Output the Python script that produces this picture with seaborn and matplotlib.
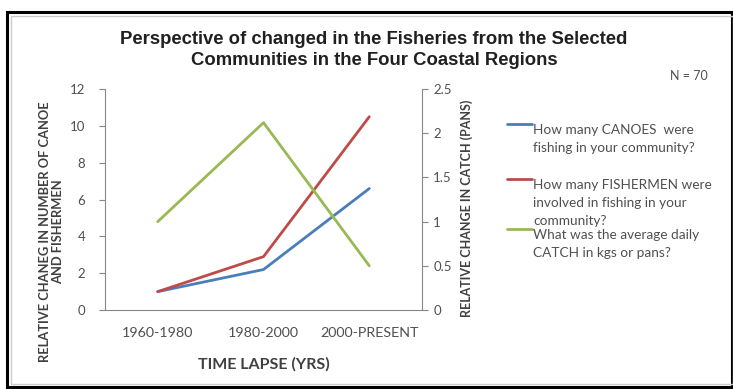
import seaborn as sb
import pandas as pd
import numpy as np
import matplotlib.pyplot as plt
from matplotlib.patches import Rectangle
from matplotlib.ticker import FixedLocator
from matplotlib.legend_handler import HandlerLine2D

# values
periods = ['1960-1980', '1980-2000', '2000-PRESENT']
canoes = [1.0, 2.2, 6.6]
fishermen = [1.0, 2.9, 10.5]
catch = [1.0, 2.12, 0.5]

labels = ['How many CANOES  were\nfishing in your community?',
          'How many FISHERMEN were\ninvolved in fishing in your\ncommunity?',
          'What was the average daily\nCATCH in kgs or pans?']
colors = ['#4a7ebb', '#be4b48', '#98b954']
grey = '#505050'


class FirstLineHandler(HandlerLine2D):
    # put the legend line beside the first text line, not the middle one
    def __init__(self, shift, **kw):
        super().__init__(**kw)
        self.shift = shift

    def create_artists(self, legend, orig_handle, xdescent, ydescent, width, height, fontsize, trans):
        arts = super().create_artists(legend, orig_handle, xdescent, ydescent, width, height, fontsize, trans)
        for a in arts:
            a.set_ydata(np.asarray(a.get_ydata()) + self.shift * fontsize)
        return arts


sb.set_style('white')
plt.rcParams['font.family'] = ['Lato', 'DejaVu Sans']

counts = pd.DataFrame({'period': periods * 2,
                       'value': canoes + fishermen,
                       'series': ['canoes'] * 3 + ['fishermen'] * 3})
catch_df = pd.DataFrame({'period': periods, 'value': catch})

fig = plt.figure(figsize=(7.33, 3.89), dpi=100)
ax = fig.add_axes([0.143, 0.203, 0.433, 0.568])
sb.lineplot(data=counts, x='period', y='value', hue='series',
            palette=colors[:2], linewidth=2, ax=ax, legend=False)
ax2 = ax.twinx()
sb.lineplot(data=catch_df, x='period', y='value', color=colors[2],
            linewidth=2, ax=ax2, legend=False)

ax.set_xlim(-0.5, 2.5)
ax.set_ylim(0, 12)
ax.set_yticks(range(0, 13, 2))
ax2.set_ylim(0, 2.5)
ax2.set_yticks([0, 0.5, 1, 1.5, 2, 2.5])
ax2.set_yticklabels(['0', '0.5', '1', '1.5', '2', '2.5'])

ax.tick_params(axis='x', which='major', length=0, labelsize=10.3, labelcolor=grey, pad=12)
ax.xaxis.set_minor_locator(FixedLocator([-0.5, 0.5, 1.5, 2.5]))
ax.tick_params(axis='x', which='minor', length=4, direction='inout', color='#888888')
ax.tick_params(axis='y', length=4, color='#888888', labelsize=9.5, labelcolor=grey, left=True, pad=10)
ax2.tick_params(axis='y', length=4, color='#888888', labelsize=9.5, labelcolor=grey, right=True, pad=4)

for a in (ax, ax2):
    for s in a.spines.values():
        s.set_visible(False)
ax.spines['left'].set_visible(True)
ax.spines['bottom'].set_visible(True)
ax2.spines['right'].set_visible(True)
for s in (ax.spines['left'], ax.spines['bottom'], ax2.spines['right']):
    s.set_color('#888888')
    s.set_linewidth(0.8)

ax.set_xlabel('TIME LAPSE (YRS)', fontsize=11.5, fontweight='bold', color='#404040')
ax.xaxis.set_label_coords(0.5, -0.212)
ax.set_ylabel('RELATIVE CHANEG IN NUMBER OF CANOE\nAND FISHERMEN', fontsize=9.3,
              fontweight='bold', color='#404040')
ax.yaxis.set_label_coords(-0.127, 0.355)
ax2.set_ylabel('RELATIVE CHANGE IN CATCH (PANS)', fontsize=9, fontweight='bold',
               color='#404040')
ax2.yaxis.set_label_coords(1.12, 0.46)

# one legend per entry, so each sits where the excel legend put it
handles = ax.get_lines()[:2] + ax2.get_lines()[:1]
for h, lab, y in zip(handles, labels, [0.713, 0.571, 0.442]):
    n = lab.count('\n') + 1
    leg = fig.legend([h], [lab], loc='upper left', bbox_to_anchor=(0.675, y),
                     frameon=False, fontsize=9.8, labelcolor=grey, handlelength=1.85,
                     handletextpad=0.05,
                     handler_map={h: FirstLineHandler((n - 1) / 2 * 1.36 + 0.45)})
    for t in leg.get_texts():
        t.set_linespacing(1.6)

fig.text(0.51, 0.872, 'Perspective of changed in the Fisheries from the Selected\n'
         'Communities in the Four Coastal Regions', ha='center', va='center',
         fontsize=13.3, fontweight='bold', family='Liberation Sans', color='#202020',
         linespacing=1.33)
fig.text(0.94, 0.805, 'N = 70', ha='center', va='center', fontsize=9, color=grey)

# outer frame
fig.patches.append(Rectangle((0.009, 0.006), 0.99, 0.963, transform=fig.transFigure,
                             fill=False, edgecolor='black', linewidth=2.2))
fig.patches.append(Rectangle((0.015, 0.014), 0.985, 0.946, transform=fig.transFigure,
                             fill=False, edgecolor='#cccccc', linewidth=1))

fig.savefig('out.png', dpi=100)
